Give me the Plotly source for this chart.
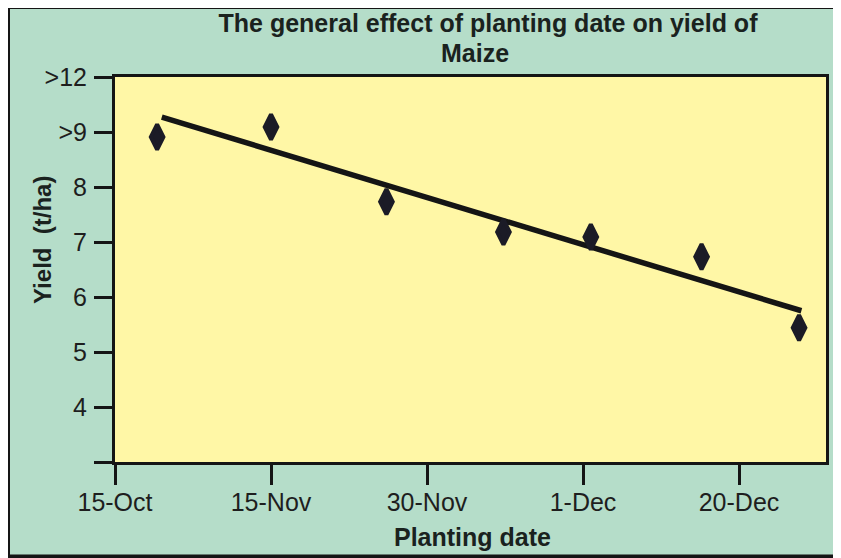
import plotly.graph_objects as go

# ---- data ----
date_labels = ["15-Oct", "15-Nov", "30-Nov", "1-Dec", "20-Dec"]
date_ticks = [0, 1, 2, 3, 4]
obs_x = [0.27, 1.00, 1.74, 2.49, 3.05, 3.76, 4.385]
obs_yield = [8.91, 9.09, 7.73, 7.18, 7.09, 6.73, 5.44]
trend_x = [0.30, 4.40]
trend_yield = [9.27, 5.75]
yield_ticks = [3, 4, 5, 6, 7, 8, 9, 10]
yield_labels = ["", "4", "5", "6", "7", "8", ">9", ">12"]

MINT = "#b5ddc9"
YELLOW = "#fff7a6"
INK = "#151515"
FONT = "Liberation Sans, Arial, sans-serif"

fig = go.Figure()
fig.add_trace(go.Scatter(
    x=trend_x, y=trend_yield, mode="lines",
    line=dict(color=INK, width=5.5), showlegend=False, hoverinfo="skip"))
fig.add_trace(go.Scatter(
    x=obs_x, y=obs_yield, mode="markers",
    marker=dict(symbol="diamond-tall", size=18, color="#1b1b26",
                line=dict(color="#1b1b26", width=4)),
    showlegend=False))

# page body adds an 8px offset; figure is sized to fill the rest of the window
OFF = 8
W, H = 841 - OFF, 558 - OFF
L, R, T, B = 115 - OFF, 15, 77 - OFF, 96
pw, ph = W - L - R, H - T - B

def px(x):
    # x given in window pixels
    return (x - OFF - L) / pw

def py(y):
    # y given in window pixels
    return (H - B - (y - OFF)) / ph

fig.update_layout(
    width=W, height=H,
    margin=dict(l=L, r=R, t=T, b=B, autoexpand=False),
    paper_bgcolor=MINT, plot_bgcolor=YELLOW,
    font=dict(family=FONT, size=25, color="#1a1a1a"),
    title=dict(text="<b>The general effect of planting date on yield of</b>",
               x=(488 - OFF) / W, xanchor="center", xref="container",
               y=1 - (23 - OFF) / H, yanchor="middle", yref="container",
               font=dict(size=25, color="#1a221e")),
    xaxis=dict(range=[0, pw / 156.0], tickvals=date_ticks, ticktext=date_labels,
               showgrid=False, zeroline=False, showline=True, mirror=True,
               linecolor=INK, linewidth=3, ticks="outside", ticklen=20,
               tickwidth=3, tickcolor=INK, ticklabelstandoff=-4,
               tickfont=dict(size=25, color="#1e1e1e")),
    yaxis=dict(range=[3, 10], tickvals=yield_ticks, ticktext=yield_labels,
               showgrid=False, zeroline=False, showline=True, mirror=True,
               linecolor=INK, linewidth=3, ticks="outside", ticklen=18,
               tickwidth=3, tickcolor=INK, ticklabelstandoff=2,
               tickfont=dict(size=25, color="#1e1e1e")),
    shapes=[
        dict(type="rect", xref="paper", yref="paper",
             x0=px(8), x1=px(860), y0=py(556.5), y1=py(7),
             line=dict(color=INK, width=4), layer="above"),
    ],
    annotations=[
        dict(text="<b>Maize</b>", xref="paper", yref="paper",
             x=px(475), y=py(53), xanchor="center", yanchor="middle",
             showarrow=False, font=dict(size=25, color="#1a221e")),
        dict(text="<b>Planting date</b>", xref="paper", yref="paper",
             x=px(472), y=py(537), xanchor="center", yanchor="middle",
             showarrow=False, font=dict(size=25, color="#1a221e")),
        dict(text="<b>Yield  (t/ha)</b>", xref="paper", yref="paper",
             x=px(42), y=py(240), xanchor="center", yanchor="middle",
             textangle=-90, showarrow=False,
             font=dict(size=24, color="#1a221e")),
    ],
)

fig.write_html("out.html")
